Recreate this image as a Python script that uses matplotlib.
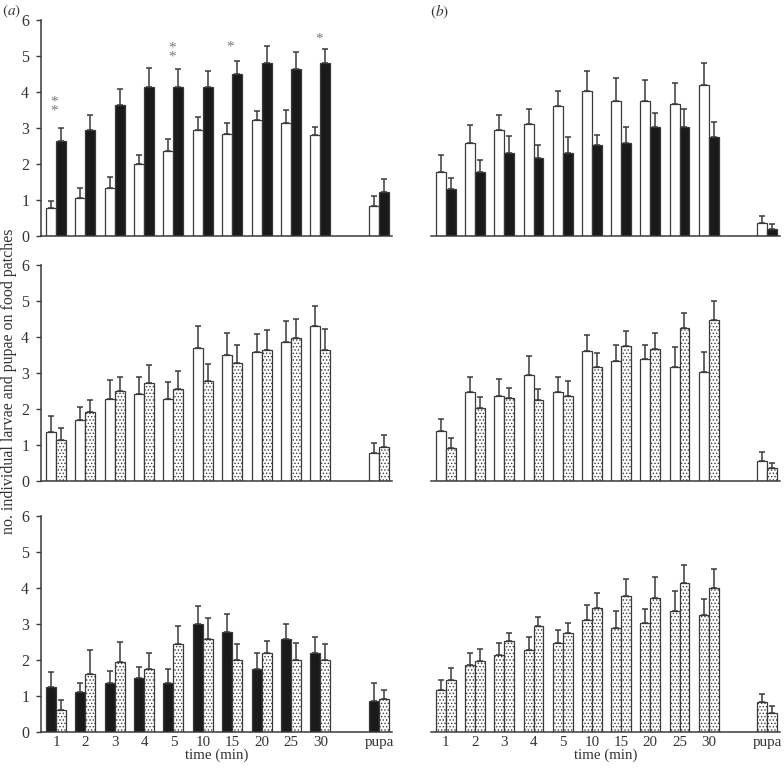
import numpy as np
import matplotlib
matplotlib.use("Agg")
import matplotlib.pyplot as plt

plt.rcParams['font.family'] = ['Liberation Serif', 'DejaVu Serif']
plt.rcParams['mathtext.fontset'] = 'stix'
plt.rcParams['hatch.linewidth'] = 0.6

categories = ['1', '2', '3', '4', '5', '10', '15', '20', '25', '30', 'pupa']
positions = [1, 2, 3, 4, 5, 6, 7, 8, 9, 10, 12]

# panel (a) top: white vs black
a_top_white = [0.79, 1.05, 1.33, 1.99, 2.35, 2.94, 2.84, 3.21, 3.15, 2.80, 0.84]
a_top_white_err = [0.96, 1.33, 1.64, 2.26, 2.69, 3.31, 3.15, 3.46, 3.49, 3.03, 1.12]
a_top_black = [2.63, 2.94, 3.65, 4.15, 4.15, 4.15, 4.51, 4.80, 4.64, 4.80, 1.22]
a_top_black_err = [3.00, 3.37, 4.07, 4.66, 4.63, 4.59, 4.85, 5.28, 5.10, 5.19, 1.57]

# significance stars (category index, y centre, number of stars)
star_idx = [0, 4, 6, 9]
star_y = [3.72, 5.23, 5.37, 5.59]
star_n = [2, 2, 1, 1]

# panel (b) top: white vs black
b_top_white = [1.78, 2.57, 2.95, 3.10, 3.60, 4.04, 3.75, 3.75, 3.66, 4.19, 0.36]
b_top_white_err = [2.24, 3.07, 3.35, 3.54, 4.04, 4.59, 4.40, 4.34, 4.25, 4.81, 0.56]
b_top_black = [1.30, 1.78, 2.31, 2.16, 2.31, 2.52, 2.58, 3.02, 3.02, 2.74, 0.20]
b_top_black_err = [1.62, 2.11, 2.77, 2.52, 2.74, 2.81, 3.02, 3.41, 3.54, 3.16, 0.33]

# panel (a) middle: white vs dotted
a_mid_white = [1.36, 1.70, 2.29, 2.43, 2.29, 3.70, 3.49, 3.58, 3.86, 4.30, 0.77]
a_mid_white_err = [1.81, 2.06, 2.81, 2.89, 2.74, 4.31, 4.10, 4.07, 4.44, 4.87, 1.06]
a_mid_dot = [1.15, 1.92, 2.50, 2.71, 2.56, 2.78, 3.27, 3.64, 3.98, 3.64, 0.94]
a_mid_dot_err = [1.47, 2.26, 2.89, 3.21, 3.05, 3.24, 3.77, 4.20, 4.51, 4.22, 1.27]

# panel (b) middle: white vs dotted
b_mid_white = [1.38, 2.46, 2.37, 2.95, 2.46, 3.61, 3.33, 3.40, 3.18, 3.02, 0.55]
b_mid_white_err = [1.73, 2.89, 2.83, 3.48, 2.89, 4.06, 3.79, 3.79, 3.72, 3.57, 0.80]
b_mid_dot = [0.93, 2.04, 2.31, 2.25, 2.37, 3.18, 3.76, 3.68, 4.25, 4.47, 0.35]
b_mid_dot_err = [1.20, 2.33, 2.58, 2.56, 2.78, 3.55, 4.16, 4.10, 4.68, 4.99, 0.50]

# panel (a) bottom: black vs dotted
a_bot_black = [1.25, 1.09, 1.35, 1.49, 1.35, 3.00, 2.76, 1.74, 2.58, 2.18, 0.85]
a_bot_black_err = [1.65, 1.34, 1.68, 1.80, 1.74, 3.48, 3.27, 2.18, 3.00, 2.64, 1.34]
a_bot_dot = [0.60, 1.59, 1.93, 1.74, 2.43, 2.58, 1.99, 2.18, 1.99, 1.99, 0.92]
a_bot_dot_err = [0.88, 2.26, 2.49, 2.18, 2.95, 3.15, 2.43, 2.53, 2.46, 2.43, 1.16]

# panel (b) bottom: dotted vs dotted
b_bot_dot1 = [1.16, 1.85, 2.12, 2.27, 2.46, 3.10, 2.88, 3.01, 3.35, 3.23, 0.82]
b_bot_dot1_err = [1.44, 2.18, 2.46, 2.64, 2.82, 3.53, 3.35, 3.40, 3.91, 3.69, 1.06]
b_bot_dot2 = [1.44, 1.97, 2.51, 2.95, 2.74, 3.44, 3.78, 3.72, 4.13, 4.00, 0.51]
b_bot_dot2_err = [1.76, 2.29, 2.73, 3.20, 3.01, 3.84, 4.25, 4.29, 4.62, 4.53, 0.72]

EDGE = '#3a3a3a'
TXT = '#333333'
W = 0.34
FS = 10.8
STYLES = {
    'white': dict(color='white', hatch=None),
    'black': dict(color='#1a1a1a', hatch=None),
    'dot': dict(color='white', hatch='.....'),
}

fig = plt.figure(figsize=(7.84, 7.68), dpi=100)

lx, lw = 41 / 784, 351 / 784
rx, rw = 431 / 784, 349 / 784
rows = [(1 - 236 / 768), (1 - 481 / 768), (1 - 731.7 / 768)]
h = 216 / 768


def draw(ax, s1, v1, e1, s2, v2, e2, left, bottom):
    x = np.array(positions, dtype=float)
    for off, st, v, e in [(-W / 2, s1, v1, e1), (W / 2, s2, v2, e2)]:
        v = np.array(v)
        e = np.array(e)
        ax.errorbar(x + off, v, yerr=[np.zeros_like(v), e - v], fmt='none',
                    ecolor=EDGE, elinewidth=1.1, capsize=2.2, capthick=1.1, zorder=1)
        ax.bar(x + off, v, width=W, color=STYLES[st]['color'], edgecolor=EDGE,
               linewidth=0.9, hatch=STYLES[st]['hatch'], zorder=2)
    ax.set_xlim(0.49, 12.44)
    ax.set_ylim(0, 6)
    for sp in ['top', 'right']:
        ax.spines[sp].set_visible(False)
    ax.spines['bottom'].set_color(EDGE)
    ax.spines['bottom'].set_linewidth(1.1)
    ax.spines['left'].set_color(EDGE)
    ax.spines['left'].set_linewidth(1.1)
    if left:
        ax.set_yticks(range(0, 7))
        ax.tick_params(axis='y', direction='out', length=3.5, width=1.0,
                       color=EDGE, labelsize=FS + 0.7, labelcolor=TXT, pad=5)
    else:
        ax.spines['left'].set_visible(False)
        ax.set_yticks([])
    if bottom:
        ax.set_xticks(positions)
        ax.set_xticklabels(categories)
        ax.tick_params(axis='x', length=0, labelsize=FS, labelcolor=TXT, pad=3)
        ax.set_xlabel('time (min)', fontsize=FS, color=TXT, labelpad=0)
    else:
        ax.set_xticks([])


panels = [
    (lx, lw, rows[0], True, False, ('white', a_top_white, a_top_white_err, 'black', a_top_black, a_top_black_err)),
    (rx, rw, rows[0], False, False, ('white', b_top_white, b_top_white_err, 'black', b_top_black, b_top_black_err)),
    (lx, lw, rows[1], True, False, ('white', a_mid_white, a_mid_white_err, 'dot', a_mid_dot, a_mid_dot_err)),
    (rx, rw, rows[1], False, False, ('white', b_mid_white, b_mid_white_err, 'dot', b_mid_dot, b_mid_dot_err)),
    (lx, lw, rows[2], True, True, ('black', a_bot_black, a_bot_black_err, 'dot', a_bot_dot, a_bot_dot_err)),
    (rx, rw, rows[2], False, True, ('dot', b_bot_dot1, b_bot_dot1_err, 'dot', b_bot_dot2, b_bot_dot2_err)),
]

axes = []
for (x0, w, y0, left, bottom, d) in panels:
    ax = fig.add_axes([x0, y0, w, h])
    ax.patch.set_alpha(0)
    draw(ax, *d, left, bottom)
    axes.append(ax)

# significance stars on the top (a) panel (glyph sits high in the line box)
for i, yy, n in zip(star_idx, star_y, star_n):
    axes[0].text(positions[i] - 0.06, yy - 0.13, '\n'.join(['*'] * n),
                 ha='center', va='center', fontsize=11, color='#777777',
                 linespacing=0.62)

fig.text(0.003, 0.997, r'$(\mathit{a})$', fontsize=11, color=TXT, ha='left', va='top')
fig.text(0.548, 0.997, r'$(\mathit{b})$', fontsize=11, color=TXT, ha='left', va='top')
fig.text(0.011, 0.504, 'no. individual larvae and pupae on food patches', rotation=90,
         ha='center', va='center', fontsize=11.5, color=TXT)

fig.savefig('out.png', dpi=100)
